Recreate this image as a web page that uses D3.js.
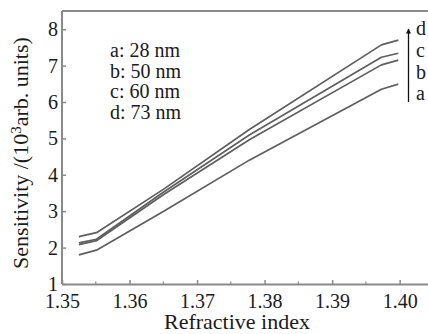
<!DOCTYPE html>
<html>
<head>
<meta charset="utf-8">
<script src="https://cdn.jsdelivr.net/npm/d3@7"></script>
<style>
  body { margin: 0; background: #fff; }
  svg { display: block; }
</style>
</head>
<body>
<div id="chart"></div>
<script>
// refractive index samples along each curve
const refIndex = [1.3525, 1.3551, 1.365, 1.3778, 1.3973, 1.3998];
// sensitivity (10^3 arb. units) for each film thickness
const seriesA = [1.80, 1.93, 2.99, 4.41, 6.35, 6.49];
const seriesB = [2.08, 2.19, 3.45, 4.97, 7.02, 7.15];
const seriesC = [2.13, 2.23, 3.52, 5.10, 7.23, 7.34];
const seriesD = [2.30, 2.41, 3.60, 5.25, 7.57, 7.70];
const seriesNames = ['a', 'b', 'c', 'd'];
const legendLabels = ['a: 28 nm', 'b: 50 nm', 'c: 60 nm', 'd: 73 nm'];
const xTicks = [1.35, 1.36, 1.37, 1.38, 1.39, 1.40];
const xMinorTicks = [1.355, 1.365, 1.375, 1.385, 1.395];
const yTicks = [1, 2, 3, 4, 5, 6, 7, 8];

const width = 428, height = 334;
const plotLeft = 62, plotTop = 11, plotBottom = 284, plotRight = 428;
const serif = '"Liberation Serif"';
const textColor = '#1a1a1a';
const axisColor = '#8a8a8a';

const svg = d3.select('#chart')
    .append('svg')
    .attr('width', width)
    .attr('height', height);

const x = d3.scaleLinear().domain([1.35, 1.4042]).range([plotLeft, plotRight]);
const y = d3.scaleLinear().domain([1, 8.5]).range([plotBottom, plotTop]);

// frame: top border
svg.append('line')
    .attr('x1', plotLeft).attr('x2', plotRight)
    .attr('y1', plotTop).attr('y2', plotTop)
    .attr('stroke', axisColor)
    .attr('stroke-width', 2);

const xAxis = d3.axisBottom(x)
    .tickValues(xTicks)
    .tickFormat(d3.format('.2f'))
    .tickSizeInner(-4)
    .tickSizeOuter(0)
    .tickPadding(10);

const gx = svg.append('g')
    .attr('transform', `translate(0,${plotBottom})`)
    .call(xAxis);

gx.selectAll('.tick line').attr('stroke', axisColor).attr('stroke-width', 1.5);
gx.select('.domain').attr('stroke', axisColor).attr('stroke-width', 2);
gx.selectAll('text')
    .style('font-family', serif)
    .style('font-size', '20px')
    .attr('fill', textColor);

// minor x ticks
gx.selectAll('.minor')
    .data(xMinorTicks)
    .enter()
    .append('line')
    .attr('x1', d => x(d)).attr('x2', d => x(d))
    .attr('y1', 0).attr('y2', -2.5)
    .attr('stroke', axisColor)
    .attr('stroke-width', 1.2);

const yAxis = d3.axisLeft(y)
    .tickValues(yTicks)
    .tickFormat(d3.format('d'))
    .tickSizeInner(-4)
    .tickSizeOuter(0)
    .tickPadding(4);

const gy = svg.append('g')
    .attr('transform', `translate(${plotLeft},0)`)
    .call(yAxis);

gy.selectAll('.tick line').attr('stroke', axisColor).attr('stroke-width', 1.5);
gy.select('.domain')
    .attr('d', `M0,${plotBottom}V${plotTop}`)
    .attr('stroke', axisColor)
    .attr('stroke-width', 2);
gy.selectAll('text')
    .style('font-family', serif)
    .style('font-size', '20px')
    .attr('fill', textColor);

// axis titles
svg.append('text')
    .attr('x', 237)
    .attr('y', 329)
    .attr('text-anchor', 'middle')
    .style('font-family', serif)
    .style('font-size', '22px')
    .attr('fill', textColor)
    .text('Refractive index');

const yTitle = svg.append('text')
    .attr('transform', 'translate(28,153) rotate(-90)')
    .attr('text-anchor', 'middle')
    .style('font-family', serif)
    .style('font-size', '22px')
    .attr('fill', textColor);
yTitle.append('tspan').text('Sensitivity /(10');
yTitle.append('tspan').attr('dy', -7).style('font-size', '15px').text('3');
yTitle.append('tspan').attr('dy', 7).text('arb. units)');

// curves
const allSeries = [seriesA, seriesB, seriesC, seriesD];
const line = d3.line()
    .x((d, i) => x(refIndex[i]))
    .y(d => y(d));

svg.append('g')
    .selectAll('path')
    .data(allSeries)
    .enter()
    .append('path')
    .attr('d', line)
    .attr('fill', 'none')
    .attr('stroke', '#5e5e5e')
    .attr('stroke-width', 1.7)
    .attr('stroke-linejoin', 'round');

// legend text
svg.append('g')
    .selectAll('text')
    .data(legendLabels)
    .enter()
    .append('text')
    .attr('x', 110)
    .attr('y', (d, i) => 57 + i * 20.7)
    .style('font-family', serif)
    .style('font-size', '20px')
    .attr('fill', textColor)
    .text(d => d);

// series letters with arrow
const letterY = [100, 79, 57, 35];
svg.append('g')
    .selectAll('text')
    .data(seriesNames)
    .enter()
    .append('text')
    .attr('x', 416)
    .attr('y', (d, i) => letterY[i])
    .style('font-family', serif)
    .style('font-size', '20px')
    .attr('fill', textColor)
    .text(d => d);

svg.append('defs')
    .append('marker')
    .attr('id', 'arrowhead')
    .attr('viewBox', '0 0 10 10')
    .attr('refX', 9).attr('refY', 5)
    .attr('markerWidth', 8).attr('markerHeight', 5)
    .attr('markerUnits', 'userSpaceOnUse')
    .attr('orient', 'auto')
    .append('path')
    .attr('d', 'M0,0 L10,5 L0,10 Z')
    .attr('fill', '#111');

svg.append('line')
    .attr('x1', 408.5).attr('x2', 408.5)
    .attr('y1', 102).attr('y2', 29)
    .attr('stroke', '#111')
    .attr('stroke-width', 1.3)
    .attr('marker-end', 'url(#arrowhead)');
</script>
</body>
</html>
